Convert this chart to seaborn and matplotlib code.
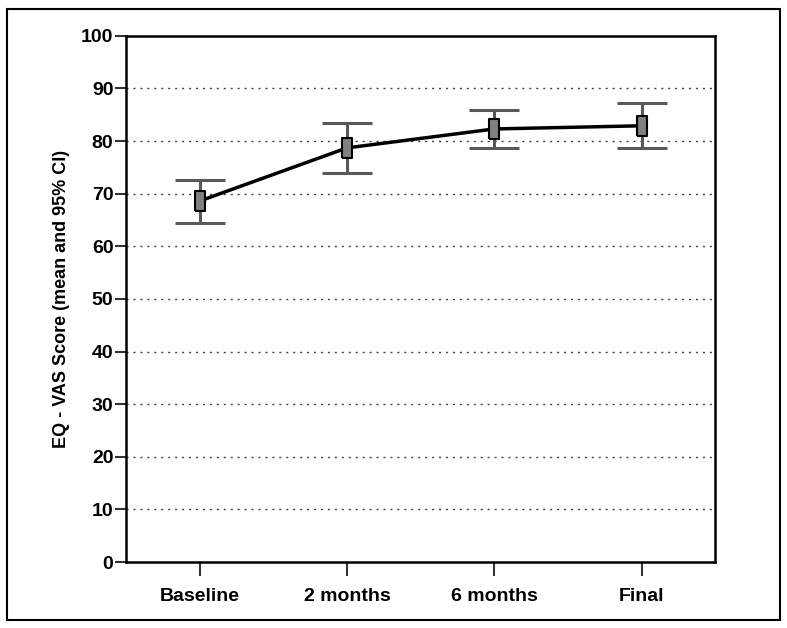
import numpy as np
import pandas as pd
import matplotlib
matplotlib.use("Agg")
import matplotlib.pyplot as plt
from matplotlib.patches import Rectangle
import seaborn as sns

# Datos
tiempos = ["Baseline", "2 months", "6 months", "Final"]
media = [68.6, 78.7, 82.3, 82.9]
ic_inf = [64.4, 74.0, 78.7, 78.6]
ic_sup = [72.6, 83.4, 85.9, 87.3]

df = pd.DataFrame({"tiempo": tiempos, "media": media})

sns.set_style("white")
plt.rcParams["font.family"] = ["Liberation Sans", "DejaVu Sans"]
plt.rcParams["text.color"] = "black"
plt.rcParams["axes.labelcolor"] = "black"
plt.rcParams["xtick.labelcolor"] = "black"
plt.rcParams["ytick.labelcolor"] = "black"

fig = plt.figure(figsize=(7.87, 6.28), dpi=100)
ax = fig.add_axes([0.160, 0.105, 0.749, 0.838])

# marco exterior
fig.patches.append(Rectangle((0.009, 0.013), 0.982, 0.973, transform=fig.transFigure,
                             fill=False, edgecolor="black", linewidth=1.5))

# lineas de referencia punteadas
for y in range(10, 100, 10):
    ax.axhline(y, color="#444444", linestyle=(0, (1.5, 3.5)), linewidth=1.0, zorder=0)

pos = np.arange(len(tiempos))
media_arr = np.array(media)
err = [media_arr - np.array(ic_inf), np.array(ic_sup) - media_arr]
ax.errorbar(pos, media_arr, yerr=err, fmt="none", ecolor="#595959",
            elinewidth=2.2, capsize=18, capthick=2.2, zorder=2)

sns.lineplot(data=df, x="tiempo", y="media", sort=False, color="black",
             linewidth=2.5, ax=ax, zorder=3)

rect = [(-0.5, -1), (0.5, -1), (0.5, 1), (-0.5, 1), (-0.5, -1)]
ax.plot(pos, media_arr, linestyle="none", marker=rect, markersize=15,
        markerfacecolor="#808080", markeredgecolor="black", markeredgewidth=1.5, zorder=4)

ax.set_xlim(-0.5, 3.5)
ax.set_ylim(0, 100)
ax.set_yticks(range(0, 101, 10))
ax.set_xticks(pos)
ax.set_xticklabels(tiempos)
ax.set_xlabel("")
ax.set_ylabel("EQ - VAS Score (mean and 95% CI)", fontsize=13, fontweight="bold", labelpad=8)

for s in ax.spines.values():
    s.set_linewidth(1.8)
    s.set_color("black")

ax.tick_params(axis="y", direction="out", length=8, width=1.5, color="#333333",
               labelsize=14, pad=1, left=True)
ax.tick_params(axis="x", direction="out", length=10, width=1.5, color="#333333",
               labelsize=14, pad=9, bottom=True)
for lab in ax.get_xticklabels() + ax.get_yticklabels():
    lab.set_fontweight("bold")

plt.savefig("out.png", dpi=100)
plt.close()
